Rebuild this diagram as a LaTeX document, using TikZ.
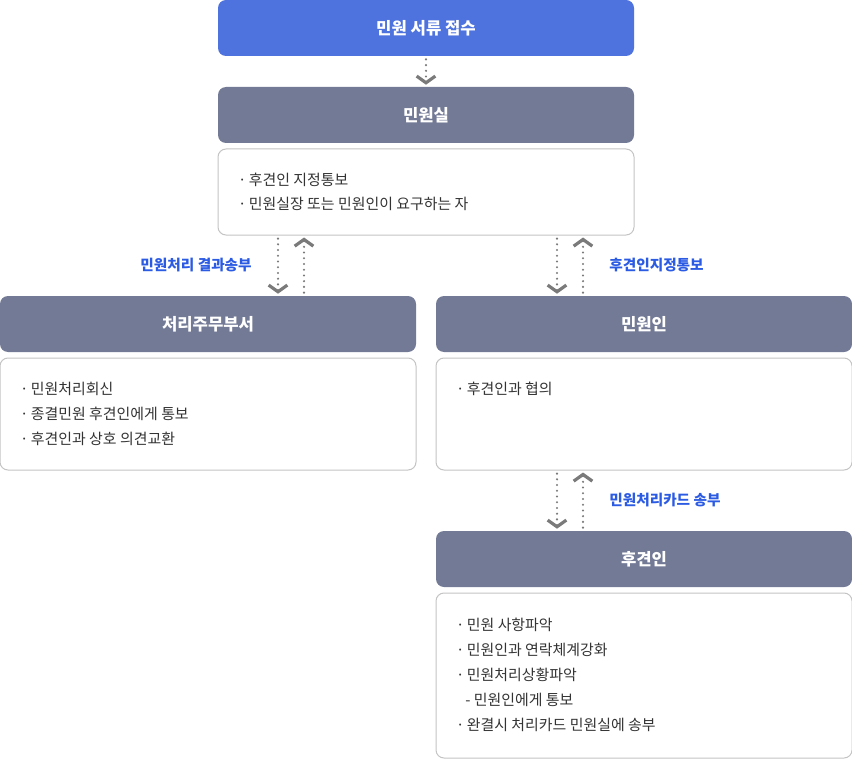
\documentclass[tikz,border=0pt]{standalone}
\usepackage{fontspec}
\setmainfont{Noto Sans CJK KR}
\usetikzlibrary{arrows.meta,positioning}
\definecolor{headblue}{HTML}{4F73DE}
\definecolor{headgray}{HTML}{737A96}
\definecolor{noteblue}{HTML}{2C5BE3}
\definecolor{cardline}{HTML}{C4C4C4}
\definecolor{dotgray}{HTML}{7A7A7A}
\definecolor{itemtext}{HTML}{333333}
\newcommand{\bul}{\makebox[6pt][c]{·}\hspace{2pt}}
\tikzset{
  head/.style={fill=headgray, rounded corners=6pt, minimum width=312pt, minimum height=42pt, inner sep=0pt, text=white, font=\fontsize{12.5}{14}\selectfont\bfseries},
  card/.style={draw=cardline, line width=0.75pt, fill=white, rounded corners=6pt, minimum width=312pt, inner sep=0pt},
  item/.style={anchor=west, inner sep=0pt, text=itemtext, font=\fontsize{11.2}{13}\selectfont},
  note/.style={inner sep=0pt, text=noteblue, font=\fontsize{11}{13}\selectfont\bfseries},
  flow/.style={draw=dotgray, line width=1.8pt, line cap=round, dash pattern=on 0pt off 4.3pt, shorten <=2.3pt, shorten >=1.5pt, -{Straight Barb[length=5pt,width=14pt,line width=2.4pt]}}
}
\begin{document}
\begin{tikzpicture}[x=0.75pt,y=-0.75pt]
  \useasboundingbox (0,0) rectangle (852,759);
  % boxes
  \node[head,fill=headblue] (recv) at (426,28) {민원 서류 접수};
  \node[head] (office) at (426,115) {민원실};
  \node[card,minimum height=64.5pt] (officecard) at (426,192) {};
  \node[head] (dept) at (208,324) {처리주무부서};
  \node[card,minimum height=84pt] (deptcard) at (208,414) {};
  \node[head] (citizen) at (644,324) {민원인};
  \node[card,minimum height=84pt] (citizencard) at (644,414) {};
  \node[head] (guard) at (644,559) {후견인};
  \node[card,minimum height=123.75pt] (guardcard) at (644,675.5) {};
  % items
  \node[item] (o1) at (238,180) {\bul 후견인 지정통보};
  \node[item] (o2) at (238,204) {\bul 민원실장 또는 민원인이 요구하는 자};
  \node[item] (d1) at (20,389) {\bul 민원처리회신};
  \node[item] (d2) at (20,414) {\bul 종결민원 후견인에게 통보};
  \node[item] (d3) at (20,439) {\bul 후견인과 상호 의견교환};
  \node[item] (c1) at (456,389) {\bul 후견인과 협의};
  \node[item] (g1) at (456,625) {\bul 민원 사항파악};
  \node[item] (g2) at (456,650) {\bul 민원인과 연락체계강화};
  \node[item] (g3) at (456,675) {\bul 민원처리상황파악};
  \node[item] (g4) at (465,700) {- 민원인에게 통보};
  \node[item] (g5) at (456,725) {\bul 완결시 처리카드 민원실에 송부};
  % labels
  \node[note,anchor=east] (resultnote) at (252,265) {민원처리 결과송부};
  \node[note,anchor=west] (assignnote) at (609,265) {후견인지정통보};
  \node[note,anchor=west] (cardnote) at (609,500) {민원처리카드 송부};
  % arrows
  \coordinate (lDown) at (278,0);
  \coordinate (lUp) at (304,0);
  \coordinate (rDown) at (557,0);
  \coordinate (rUp) at (583,0);
  \draw[flow] (recv) -- (office);
  \draw[flow] (officecard.south -| lDown) -- (dept.north -| lDown);
  \draw[flow] (dept.north -| lUp) -- (officecard.south -| lUp);
  \draw[flow] (officecard.south -| rDown) -- (citizen.north -| rDown);
  \draw[flow] (citizen.north -| rUp) -- (officecard.south -| rUp);
  \draw[flow] (citizencard.south -| rDown) -- (guard.north -| rDown);
  \draw[flow] (guard.north -| rUp) -- (citizencard.south -| rUp);
\end{tikzpicture}
\end{document}
